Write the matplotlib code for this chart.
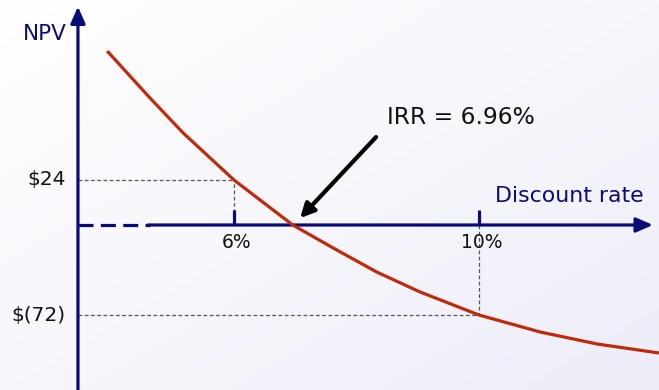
import numpy as np
import matplotlib
matplotlib.use("Agg")
import matplotlib.pyplot as plt

# NPV profile (discount rate in %, NPV in $)
rate = [3.93, 4.63, 5.17, 6.0, 6.96, 7.62, 8.33, 9.04, 10.0, 11.0, 11.93, 12.94]
npv = [92.8, 67.7, 49.1, 24.0, 0.0, -18.4, -37.6, -53.6, -72.0, -85.6, -95.2, -102.4]

marked_rates = [6.0, 10.0]
marked_npv = [24.0, -72.0]
tick_labels = ["6%", "10%"]
npv_labels = ["$24", "$(72)"]
irr = 6.96

navy = "#0a0a7a"
red = "#c0290a"

# positive NPV is stretched relative to negative NPV
def fwd(y):
    y = np.asarray(y, dtype=float)
    return np.where(y > 0, 1.5 * y, y)

def inv(y):
    y = np.asarray(y, dtype=float)
    return np.where(y > 0, y / 1.5, y)

fig = plt.figure(figsize=(6.59, 3.90), dpi=100)
ax = fig.add_axes([0, 0, 1, 1])
ax.set_yscale("function", functions=(fwd, inv))
ax.set_xlim(2.18, 12.94)
ax.set_ylim(-132, 120)
ax.axis("off")

# soft white-to-lavender background
gx, gy = np.meshgrid(np.linspace(0, 1, 200), np.linspace(0, 1, 200))
g = (gx + (1 - gy)) / 2
bg = np.ones((200, 200, 3))
bg[..., 0] = 1 - 0.07 * g
bg[..., 1] = 1 - 0.07 * g
bg[..., 2] = 1 - 0.025 * g
ax.imshow(bg, extent=[0, 1, 0, 1], transform=ax.transAxes, aspect="auto", zorder=0, origin="lower")

x_axis = 3.453
# vertical NPV axis
ax.annotate("", xy=(x_axis, 116.5), xytext=(x_axis, -132),
            arrowprops=dict(arrowstyle="-|>,head_length=0.5,head_width=0.22", color=navy, lw=2.3,
                            shrinkA=0, shrinkB=0, mutation_scale=20), zorder=3)
# horizontal rate axis: dashed break, then solid with arrow
ax.plot([x_axis, 4.63], [0, 0], color=navy, lw=2.3, dashes=(4.7, 2.3), zorder=3)
ax.annotate("", xy=(12.84, 0), xytext=(4.60, 0),
            arrowprops=dict(arrowstyle="-|>,head_length=0.5,head_width=0.22", color=navy, lw=2.3,
                            shrinkA=0, shrinkB=0, mutation_scale=20), zorder=3)

for r, v, lab, vlab in zip(marked_rates, marked_npv, tick_labels, npv_labels):
    ax.plot([r, r], [0, 8], color=navy, lw=2.3, solid_capstyle="butt", zorder=3)
    ax.plot([x_axis, r], [v, v], color="#555555", lw=0.9, dashes=(3, 2), zorder=2)
    ax.plot([r, r], [0, v], color="#555555", lw=0.9, dashes=(3, 2), zorder=2)
    ax.text(r + 0.05, -14, lab, ha="center", va="center", fontsize=13.5, color="#111111", zorder=4)
    ax.text(x_axis - 0.2, v, vlab, ha="right", va="center", fontsize=14.5, color="#111111", zorder=4)

ax.plot(rate, npv, color=red, lw=2.3, zorder=5, solid_capstyle="butt", solid_joinstyle="round")

ax.text(x_axis - 0.18, 102, "NPV", ha="right", va="center", fontsize=15.5, color=navy)
ax.text(10.26, 15.5, "Discount rate", ha="left", va="center", fontsize=15.8, color=navy)

# IRR callout
ax.annotate("", xy=(7.08, 3.7), xytext=(8.32, 46.9),
            arrowprops=dict(arrowstyle="-|>,head_length=0.6,head_width=0.3", color="black", lw=3,
                            shrinkA=0, shrinkB=0, mutation_scale=14), zorder=6)
ax.text(8.50, 57.6, "IRR = 6.96%", ha="left", va="center", fontsize=16.8, color="#111111")

fig.savefig("out.png", dpi=100)
